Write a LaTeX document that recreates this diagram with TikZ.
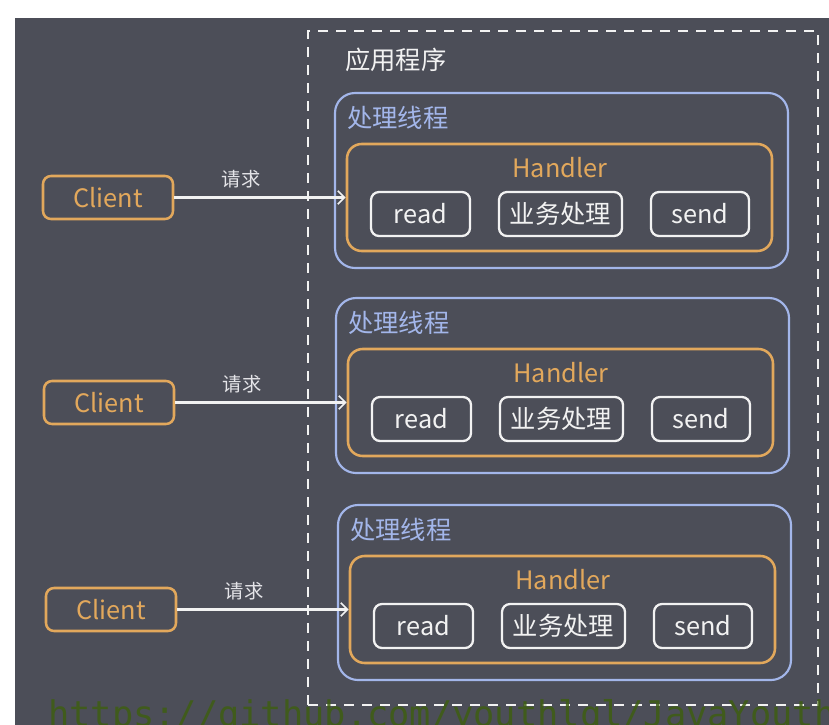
\documentclass[tikz,border=0pt]{standalone}
\usepackage{fontspec}
\setmainfont{Noto Sans CJK SC}
\newfontfamily\wmfont{DejaVu Sans Mono}
\usetikzlibrary{arrows.meta}
\definecolor{bg}{HTML}{4C4E58}
\definecolor{org}{HTML}{E2A85C}
\definecolor{blu}{HTML}{A3B6EA}
\definecolor{wht}{HTML}{F2F2F2}
\definecolor{reqc}{HTML}{E4E4E8}
\definecolor{wm}{HTML}{3E5E12}
\begin{document}
\begin{tikzpicture}[x=0.75pt,y=-0.75pt,
  sz/.style 2 args={minimum width=#1*0.75pt, minimum height=#2*0.75pt, inner sep=0pt},
  big/.style={font=\fontsize{19}{22}\selectfont},
  threadbox/.style={draw=blu, line width=1.6pt, rounded corners=15pt},
  handlerbox/.style={draw=org, line width=1.9pt, rounded corners=11pt},
  opbox/.style={draw=wht, line width=1.7pt, rounded corners=6pt, text=wht, big},
  clientbox/.style={draw=org, line width=1.9pt, rounded corners=6pt, text=org, big},
  req/.style={-{Straight Barb[length=5pt,width=10pt,line width=1.3pt]}, draw=wht, line width=1.9pt},
  reqlbl/.style={text=reqc, font=\fontsize{14.5}{17}\selectfont, inner sep=0pt},
  applbox/.style={draw=wht, line width=2.2pt, dash pattern=on 7.5pt off 6pt},
]
\useasboundingbox (0,0) rectangle (829,725);
\fill[bg] (15,18) rectangle (829,725);
\node[applbox, sz={510}{674}] (app) at (563,368) {};
\node[anchor=west, text=wht, big, inner sep=0pt] (applbl) at (345,60) {应用程序};
\foreach \i/\dx/\dy in {1/0/0,2/1/205,3/3/412}{
  \begin{scope}[shift={(\dx,\dy)}]
    \node[threadbox, sz={453}{175}] (thread\i) at (561.5,180.5) {};
    \node[anchor=west, text=blu, big, inner sep=0pt] (tlbl\i) at (347,118) {处理线程};
    \node[handlerbox, sz={425}{107}] (handler\i) at (559.5,197.5) {};
    \node[text=org, big, inner sep=0pt] (hlbl\i) at (560,168) {Handler};
    \node[opbox, sz={99}{44}] (read\i) at (420.5,214) {read};
    \node[opbox, sz={123}{44}] (biz\i) at (560.5,214) {业务处理};
    \node[opbox, sz={98}{44}] (send\i) at (700,214) {send};
    \node[clientbox, sz={130}{43}] (client\i) at (108,197.5) {Client};
    \draw[req] (client\i) -- node[reqlbl, pos=0.39, above=6pt] (rl\i) {请求} (handler\i);
  \end{scope}
}
\node[anchor=base west, text=wm, opacity=0.85, inner sep=0pt, font=\wmfont\fontsize{26.5}{30}\selectfont] (wmk) at (48,726) {https://github.com/youthlql/JavaYouth};
\end{tikzpicture}
\end{document}
